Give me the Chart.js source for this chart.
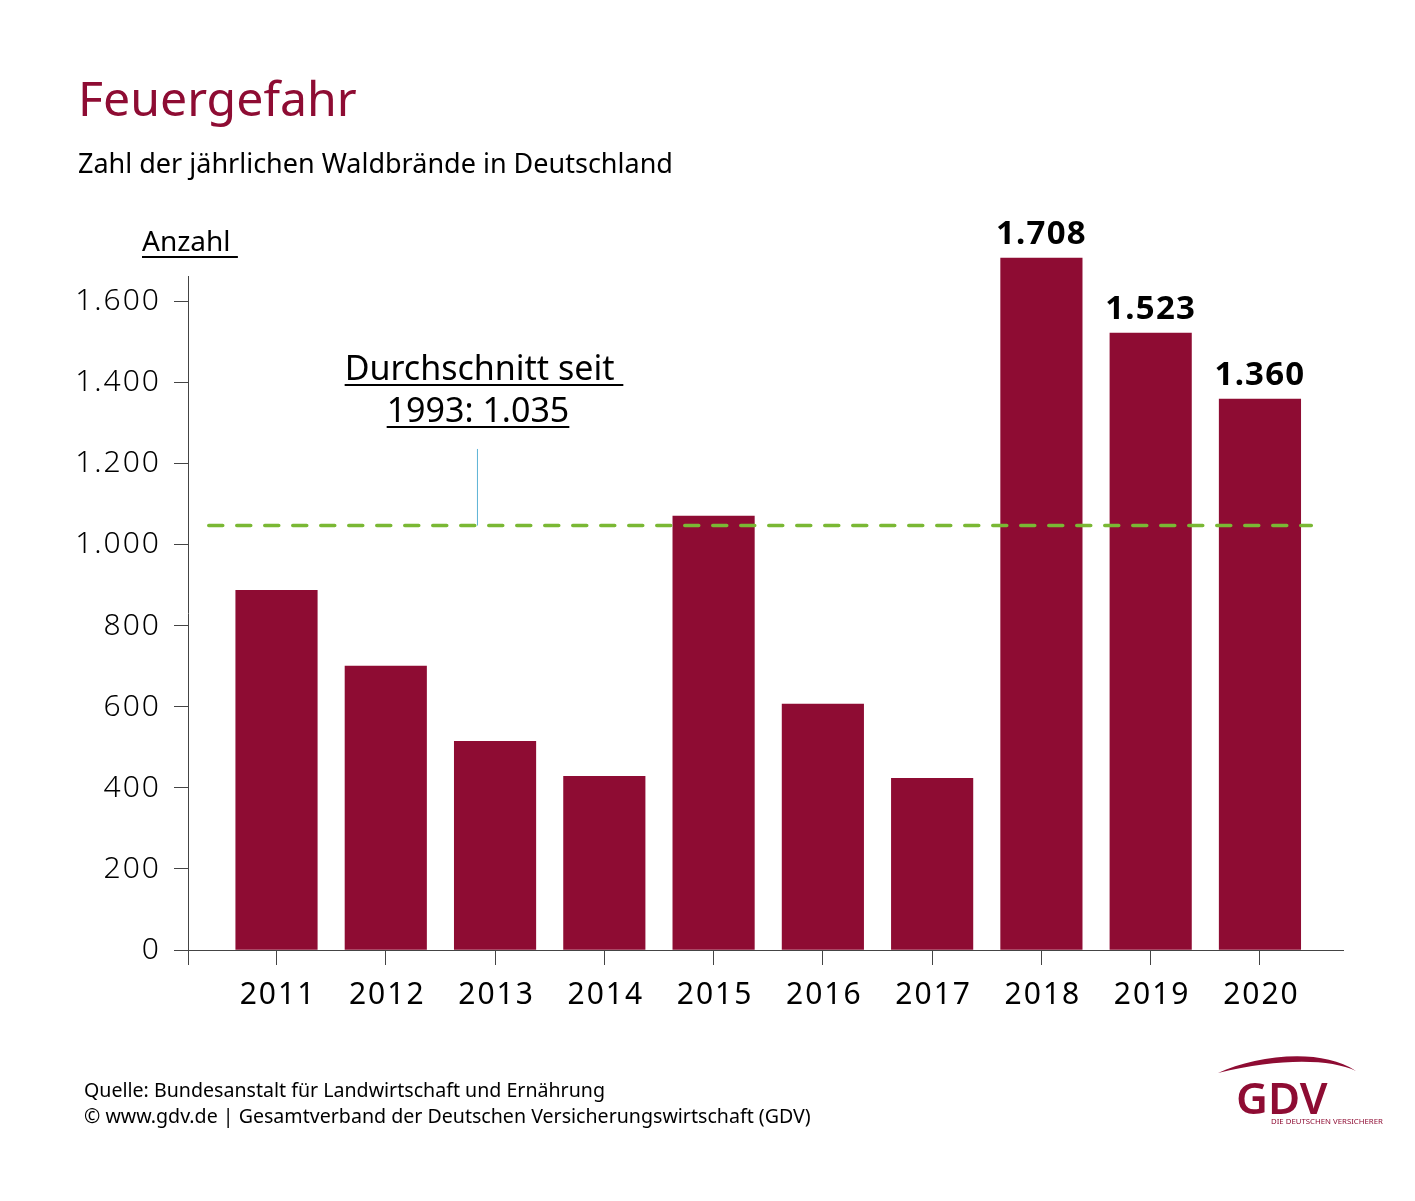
<!DOCTYPE html>
<html lang="de">
<head>
<meta charset="utf-8">
<title>Feuergefahr</title>
<script src="https://cdn.jsdelivr.net/npm/chart.js@4"></script>
<style>
  html, body { margin: 0; padding: 0; background: #fff; }
  #page { position: relative; width: 1415px; height: 1201px; overflow: hidden; font-family: "Noto Sans", sans-serif; color: #000; }
  #page > div, #page > svg { position: absolute; white-space: pre; }
  canvas { position: absolute; left: 0; top: 0; }
  #title { left: 78px; top: 64px; font-size: 48.2px; line-height: 66px; color: #8e0c33; }
  #subtitle { left: 78px; top: 145px; font-size: 27px; line-height: 36px; }
  #unit { left: 142px; top: 222px; font-size: 28px; line-height: 36px; text-decoration: underline; text-underline-offset: 5px; text-decoration-thickness: 2px; }
  #note { left: 278px; width: 400px; top: 346px; font-size: 34px; line-height: 42px; text-align: center; text-decoration: underline; text-underline-offset: 4px; text-decoration-thickness: 2px; }
  #note span { position: relative; left: 6px; }
  #source { left: 84px; top: 1077px; font-size: 19.6px; line-height: 26px; }
  #logoText { left: 1236px; top: 1067px; font-size: 44px; line-height: 60px; font-weight: 600; color: #8e0c33; }
  #logoSub { left: 1271px; top: 1115px; font-size: 7.8px; line-height: 12px; color: #8e0c33; }
</style>
</head>
<body>
<div id="page">
  <canvas id="chart" width="1415" height="1201"></canvas>
  <div id="title">Feuergefahr</div>
  <div id="subtitle">Zahl der jährlichen Waldbrände in Deutschland</div>
  <div id="unit">Anzahl </div>
  <div id="note"><span>Durchschnitt seit </span>
1993: 1.035</div>
  <div id="source">Quelle: Bundesanstalt für Landwirtschaft und Ernährung
© www.gdv.de | Gesamtverband der Deutschen Versicherungswirtschaft (GDV)</div>
  <svg style="left:1210px;top:1050px" width="155" height="30"><path d="M8 23 C45 6 110 -3 146 21 C120 9 70 8 8 23 Z" fill="#8e0c33"/></svg>
  <div id="logoText">GDV</div>
  <div id="logoSub">DIE DEUTSCHEN VERSICHERER</div>
</div>
<script>
const years = [2011, 2012, 2013, 2014, 2015, 2016, 2017, 2018, 2019, 2020];
const fires = [888, 701, 515, 429, 1071, 607, 424, 1708, 1523, 1360];
const labelledYears = [2018, 2019, 2020];
const yTicks = [0, 200, 400, 600, 800, 1000, 1200, 1400, 1600];

// the dashed line sits a bit above its printed 1.035 in the original
const averageLine = [{x: 2010.38, y: 1048}, {x: 2020.47, y: 1048}];
const leaderLine = [{x: 2012.839, y: 1048}, {x: 2012.839, y: 1237}];

const red = '#8e0c33';
const axisGrey = '#444';

const barLabels = {
    id: 'barLabels',
    beforeDraw(chart) {
        chart.ctx.letterSpacing = '2px';
    },
    afterDatasetsDraw(chart) {
        const ctx = chart.ctx;
        const bars = chart.getDatasetMeta(2).data;
        ctx.save();
        ctx.letterSpacing = '1.2px';
        ctx.font = 'bold 33px "Noto Sans"';
        ctx.fillStyle = '#000';
        ctx.textAlign = 'center';
        years.forEach((year, i) => {
            if (!labelledYears.includes(year)) return;
            ctx.fillText(fires[i].toLocaleString('de-DE'), bars[i].x, bars[i].y - 14);
        });
        ctx.restore();
    }
};

new Chart(document.getElementById('chart'), {
    type: 'bar',
    plugins: [barLabels],
    data: {
        datasets: [{
            type: 'line',
            data: averageLine,
            borderColor: '#7ab834',
            borderWidth: 3.5,
            borderDash: [14, 14],
            borderCapStyle: 'round',
            pointRadius: 0,
            order: 0,
            clip: false
        }, {
            type: 'line',
            data: leaderLine,
            borderColor: '#5cb3d6',
            borderWidth: 1,
            pointRadius: 0,
            order: 0,
            clip: false
        }, {
            type: 'bar',
            data: years.map((year, i) => ({x: year, y: fires[i]})),
            backgroundColor: red,
            barThickness: 81.5,
            order: 1,
            clip: false
        }]
    },
    options: {
        responsive: false,
        devicePixelRatio: 1,
        animation: false,
        layout: {padding: {top: 276, right: 72, left: 0, bottom: 0}},
        plugins: {legend: {display: false}, tooltip: {enabled: false}},
        scales: {
            x: {
                type: 'linear',
                offset: false,
                min: 2010.19,
                max: 2020.76,
                afterBuildTicks(axis) {
                    axis.ticks = [{value: 2010.19}].concat(years.map(year => ({value: year})));
                },
                afterFit(axis) { axis.height = 251; },
                grid: {offset: false, drawOnChartArea: false, tickLength: 15, tickColor: axisGrey},
                border: {color: axisGrey},
                ticks: {
                    autoSkip: false,
                    maxRotation: 0,
                    padding: 12,
                    labelOffset: 1.5,
                    color: '#000',
                    font: {family: '"Noto Sans"', size: 30},
                    callback: value => (years.includes(value) ? String(value) : '')
                }
            },
            y: {
                min: 0,
                max: 1664,
                afterBuildTicks(axis) {
                    axis.ticks = yTicks.map(value => ({value}));
                },
                afterFit(axis) { axis.width = 188; },
                grid: {drawOnChartArea: false, tickLength: 14, tickColor: axisGrey},
                border: {color: axisGrey},
                ticks: {
                    padding: 13,
                    color: '#000',
                    font: {family: '"Noto Sans"', size: 30, weight: 300},
                    callback: value => value.toLocaleString('de-DE')
                }
            }
        }
    }
});
</script>
</body>
</html>
